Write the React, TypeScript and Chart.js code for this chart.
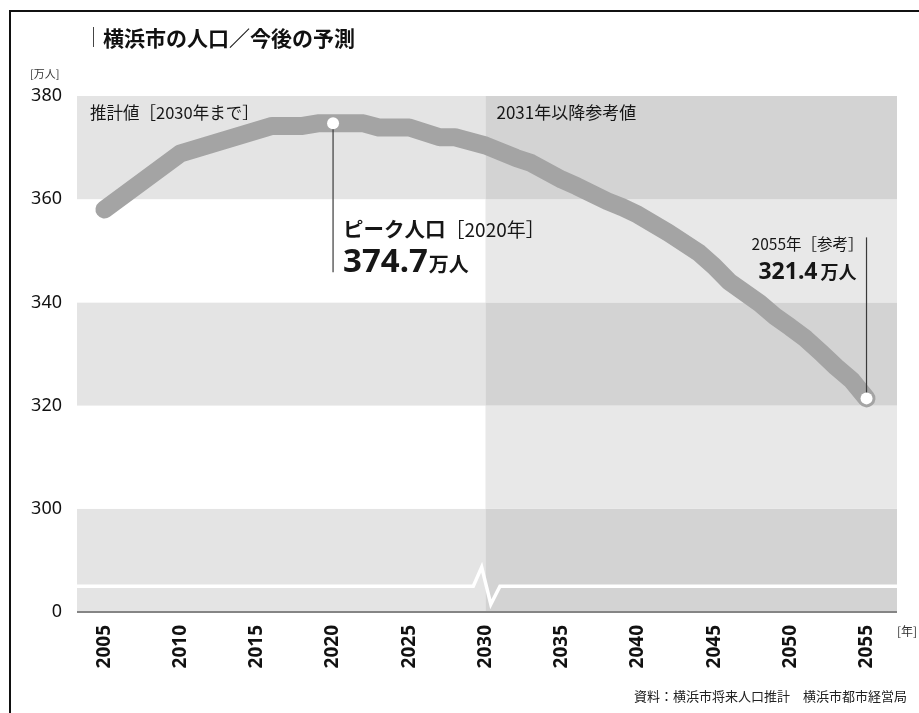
import React, { useEffect, useRef } from 'react';
import { Chart, registerables } from 'chart.js';

Chart.register(...registerables);

// ---- data ----
const years = [2005, 2010, 2016, 2018, 2019, 2020, 2022, 2023, 2025, 2027, 2028, 2030, 2032, 2033, 2035, 2036, 2038, 2039, 2040, 2042, 2044, 2045, 2046, 2048, 2049, 2050, 2051, 2052, 2053, 2054, 2055];
const population = [358.0, 368.9, 374.2, 374.2, 374.7, 374.7, 374.7, 373.9, 373.9, 372.0, 372.0, 370.4, 368.0, 367.0, 363.8, 362.5, 359.6, 358.4, 357.0, 353.5, 349.6, 347.0, 344.0, 339.8, 337.3, 335.2, 333.0, 330.3, 327.5, 325.0, 321.4];
const xTicks = [2005, 2010, 2015, 2020, 2025, 2030, 2035, 2040, 2045, 2050, 2055];
const yTicks = [280, 300, 320, 340, 360, 380];
const yTickLabels = ['0', '300', '320', '340', '360', '380'];
const estimateEndYear = 2030;
const peakYear = 2020;
const peakValue = 374.7;
const endYear = 2055;
const endValue = 321.4;
const markerYears = [peakYear, endYear];
const breakValue = 285;

const FONT_LATIN = "'Noto Sans', 'Noto Sans CJK JP', sans-serif";
const FONT_CJK = "'Noto Sans CJK JP', 'Noto Sans', sans-serif";

type Part = { text: string; font: string };

function drawRun(ctx: CanvasRenderingContext2D, parts: Part[], x: number, y: number, align: 'left' | 'right', gap = 0) {
  ctx.save();
  ctx.textAlign = 'left';
  ctx.textBaseline = 'alphabetic';
  const widths = parts.map((p) => {
    ctx.font = p.font;
    return ctx.measureText(p.text).width;
  });
  const total = widths.reduce((a, b) => a + b, 0) + gap * (parts.length - 1);
  let cx = align === 'left' ? x : x - total;
  parts.forEach((p, i) => {
    ctx.font = p.font;
    ctx.fillText(p.text, cx, y);
    cx += widths[i] + gap;
  });
  ctx.restore();
}

const bandPlugin = {
  id: 'bands',
  beforeDatasetsDraw(chart: any) {
    const { ctx, chartArea: a, scales } = chart;
    const x = scales.x;
    const y = scales.y;
    const xs = x.getPixelForValue(estimateEndYear);
    ctx.save();
    for (let i = 0; i < yTicks.length - 1; i++) {
      const top = y.getPixelForValue(yTicks[i + 1]);
      const bot = y.getPixelForValue(yTicks[i]);
      const shaded = i % 2 === 0;
      ctx.fillStyle = shaded ? '#e4e4e4' : '#ffffff';
      ctx.fillRect(a.left, top, xs - a.left, bot - top);
      ctx.fillStyle = shaded ? '#d3d3d3' : '#e8e8e8';
      ctx.fillRect(xs, top, a.right - xs, bot - top);
    }
    // axis break mark
    const yb = y.getPixelForValue(breakValue);
    ctx.strokeStyle = '#ffffff';
    ctx.lineWidth = 3.5;
    ctx.lineJoin = 'miter';
    ctx.beginPath();
    ctx.moveTo(a.left, yb);
    ctx.lineTo(x.getPixelForValue(2029.2), yb);
    ctx.lineTo(x.getPixelForValue(2029.75), y.getPixelForValue(288.7));
    ctx.lineTo(x.getPixelForValue(2030.35), y.getPixelForValue(281.5));
    ctx.lineTo(x.getPixelForValue(2030.95), yb);
    ctx.lineTo(a.right, yb);
    ctx.stroke();
    // bottom axis line
    const y0 = y.getPixelForValue(yTicks[0]);
    ctx.strokeStyle = '#858585';
    ctx.lineWidth = 2;
    ctx.beginPath();
    ctx.moveTo(a.left, y0);
    ctx.lineTo(a.right, y0);
    ctx.stroke();
    ctx.restore();
  },
};

const annotationPlugin = {
  id: 'annots',
  afterDatasetsDraw(chart: any) {
    const { ctx, chartArea: a, scales } = chart;
    const x = scales.x;
    const y = scales.y;
    const xs = x.getPixelForValue(estimateEndYear);
    ctx.save();
    ctx.fillStyle = '#161616';
    ctx.textBaseline = 'middle';
    ctx.textAlign = 'left';
    ctx.font = `16.5px ${FONT_CJK}`;
    ctx.fillText(`推計値［${estimateEndYear}年まで］`, a.left + 13, a.top + 17);
    ctx.font = `17px ${FONT_CJK}`;
    ctx.fillText(`${estimateEndYear + 1}年以降参考値`, xs + 11, a.top + 17);

    // peak
    const px = x.getPixelForValue(peakYear);
    const py = y.getPixelForValue(peakValue);
    ctx.strokeStyle = '#3a3a3a';
    ctx.lineWidth = 1.2;
    ctx.beginPath();
    ctx.moveTo(px, py + 6);
    ctx.lineTo(px, py + 149);
    ctx.stroke();
    drawRun(ctx, [
      { text: 'ピーク人口', font: `bold 20.5px ${FONT_CJK}` },
      { text: `［${peakYear}年］`, font: `19px ${FONT_CJK}` },
    ], px + 10, py + 114, 'left');
    drawRun(ctx, [
      { text: peakValue.toFixed(1), font: `bold 33px ${FONT_LATIN}` },
      { text: '万人', font: `bold 20px ${FONT_CJK}` },
    ], px + 10, py + 149, 'left', 1);

    // end
    const ex = x.getPixelForValue(endYear);
    const ey = y.getPixelForValue(endValue);
    ctx.beginPath();
    ctx.moveTo(ex, ey - 6);
    ctx.lineTo(ex, ey - 161);
    ctx.stroke();
    drawRun(ctx, [{ text: `${endYear}年［参考］`, font: `15.5px ${FONT_CJK}` }], ex - 3, ey - 148, 'right');
    drawRun(ctx, [
      { text: endValue.toFixed(1), font: `bold 23px ${FONT_LATIN}` },
      { text: '万人', font: `bold 18px ${FONT_CJK}` },
    ], ex - 10, ey - 119, 'right', 3);
    ctx.restore();
  },
};

export default function App() {
  const ref = useRef<HTMLCanvasElement>(null);
  useEffect(() => {
    const chart = new Chart(ref.current as HTMLCanvasElement, {
      type: 'line',
      data: {
        datasets: [
          {
            data: years.map((yr, i) => ({ x: yr, y: population[i] })),
            borderColor: '#a4a4a4',
            borderWidth: 18,
            borderCapStyle: 'round',
            borderJoinStyle: 'round',
            tension: 0,
            pointRadius: (c: any) => (markerYears.includes(years[c.dataIndex]) ? 6 : 0),
            pointHoverRadius: 0,
            pointBackgroundColor: '#ffffff',
            pointBorderWidth: 0,
            clip: false,
          } as any,
        ],
      },
      options: {
        responsive: false,
        animation: false,
        devicePixelRatio: 1,
        layout: { padding: { top: 96, right: 22, left: 0, bottom: 0 } },
        plugins: { legend: { display: false }, tooltip: { enabled: false } },
        events: [],
        scales: {
          x: {
            type: 'linear',
            min: 2003.2,
            max: 2057,
            grid: { display: false, drawTicks: false },
            border: { display: false },
            afterBuildTicks: (s: any) => {
              s.ticks = xTicks.map((v) => ({ value: v }));
            },
            afterFit: (s: any) => {
              s.height = 101;
            },
            ticks: {
              autoSkip: false,
              minRotation: 90,
              maxRotation: 90,
              padding: 13,
              color: '#111',
              font: { family: FONT_LATIN, size: 19, weight: 'bold' },
              callback: (v: any) => String(v),
            },
          },
          y: {
            type: 'linear',
            min: 280,
            max: 380,
            grid: { display: false, drawTicks: false },
            border: { display: false },
            afterBuildTicks: (s: any) => {
              s.ticks = yTicks.map((v) => ({ value: v }));
            },
            afterFit: (s: any) => {
              s.width = 77;
            },
            ticks: {
              padding: 15,
              color: '#111',
              font: { family: FONT_LATIN, size: 18 },
              callback: (v: any) => yTickLabels[yTicks.indexOf(v)],
            },
          },
        },
      } as any,
      plugins: [bandPlugin, annotationPlugin],
    });
    return () => chart.destroy();
  }, []);

  return (
    <div style={{ position: 'fixed', left: 0, top: 0, width: 919, height: 713, background: '#fff', overflow: 'hidden', fontFamily: FONT_CJK, color: '#111' }}>
      <div style={{ position: 'absolute', left: 9, top: 10, width: 910, height: 703, borderTop: '2px solid #111', borderLeft: '2px solid #111', boxSizing: 'border-box' }} />
      <canvas ref={ref} width={919} height={713} style={{ position: 'absolute', left: 0, top: 0, width: 919, height: 713 }} />
      <div style={{ position: 'absolute', left: 93, top: 26, height: 22, display: 'flex', alignItems: 'center', whiteSpace: 'nowrap' }}>
        <span style={{ display: 'inline-block', width: 0, height: 20, borderLeft: '1.3px solid #444' }} />
        <span style={{ marginLeft: 9, fontSize: 21, fontWeight: 700, lineHeight: '22px' }}>横浜市の人口／今後の予測</span>
      </div>
      <div style={{ position: 'absolute', left: 30, top: 66, fontSize: 11, lineHeight: '14px', color: '#333', whiteSpace: 'nowrap' }}>[万人]</div>
      <div style={{ position: 'absolute', left: 897, top: 624, fontSize: 12, lineHeight: '14px', color: '#333', whiteSpace: 'nowrap' }}>[年]</div>
      <div style={{ position: 'absolute', right: 12, top: 688, fontSize: 13, lineHeight: '15px', color: '#222', whiteSpace: 'nowrap' }}>資料：横浜市将来人口推計　横浜市都市経営局</div>
    </div>
  );
}
